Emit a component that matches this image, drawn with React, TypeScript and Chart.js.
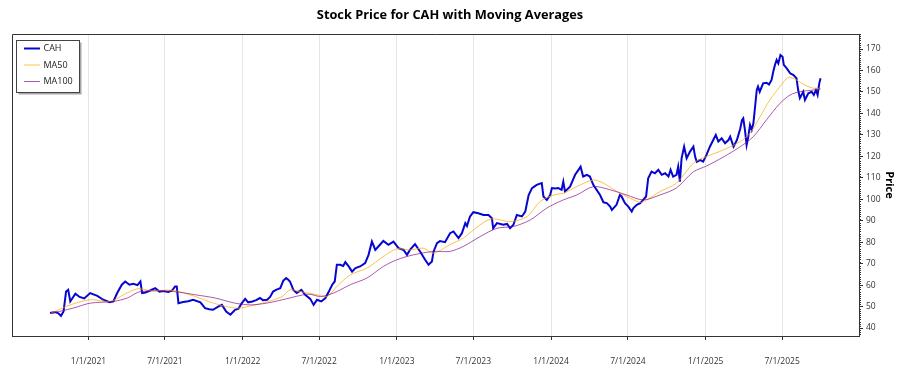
import React, { useEffect, useRef } from "react";
import { Chart, registerables } from "chart.js";

Chart.register(...registerables);

// ---------- data ----------
const cahDates = [
  "2020-10-02","2020-10-14","2020-10-21","2020-10-28","2020-11-03","2020-11-09","2020-11-14","2020-11-19","2020-12-01","2020-12-11",
  "2020-12-22","2021-01-05","2021-01-22","2021-02-05","2021-02-20","2021-03-01","2021-03-10","2021-03-21","2021-03-29","2021-04-08",
  "2021-04-17","2021-04-27","2021-05-04","2021-05-08","2021-05-16","2021-05-27","2021-06-08","2021-06-18","2021-06-27","2021-07-09",
  "2021-07-18","2021-07-25","2021-07-29","2021-08-02","2021-08-13","2021-08-25","2021-09-06","2021-09-23","2021-10-04","2021-10-14",
  "2021-10-23","2021-11-04","2021-11-13","2021-11-23","2021-12-03","2021-12-14","2021-12-22","2021-12-30","2022-01-07","2022-01-14",
  "2022-01-24","2022-02-02","2022-02-11","2022-02-18","2022-02-28","2022-03-07","2022-03-14","2022-03-21","2022-03-31","2022-04-07",
  "2022-04-14","2022-04-19","2022-04-23","2022-05-01","2022-05-09","2022-05-20","2022-05-29","2022-06-10","2022-06-18","2022-06-26",
  "2022-07-06","2022-07-16","2022-07-24","2022-08-01","2022-08-07","2022-08-12","2022-08-20","2022-08-27","2022-09-01","2022-09-09",
  "2022-09-17","2022-09-25","2022-10-06","2022-10-18","2022-10-26","2022-11-03","2022-11-11","2022-11-22","2022-11-30","2022-12-12",
  "2022-12-24","2023-01-05","2023-01-17","2023-01-25","2023-02-01","2023-02-13","2023-02-25","2023-03-09","2023-03-17","2023-03-25",
  "2023-03-29","2023-04-06","2023-04-13","2023-04-25","2023-05-07","2023-05-15","2023-05-27","2023-06-04","2023-06-12","2023-06-16",
  "2023-06-23","2023-07-01","2023-07-13","2023-07-25","2023-08-06","2023-08-14","2023-08-17","2023-08-26","2023-09-10","2023-09-19",
  "2023-09-26","2023-10-04","2023-10-12","2023-10-24","2023-11-01","2023-11-09","2023-11-17","2023-11-28","2023-12-10","2023-12-14",
  "2023-12-22","2023-12-30","2024-01-03","2024-01-11","2024-01-18","2024-01-26","2024-01-30","2024-02-03","2024-02-15","2024-02-27",
  "2024-03-06","2024-03-11","2024-03-17","2024-03-26","2024-04-02","2024-04-10","2024-04-18","2024-04-26","2024-05-04","2024-05-12",
  "2024-05-20","2024-05-24","2024-06-04","2024-06-12","2024-06-16","2024-06-24","2024-07-02","2024-07-10","2024-07-14","2024-07-22",
  "2024-07-30","2024-08-06","2024-08-13","2024-08-18","2024-08-26","2024-09-03","2024-09-11","2024-09-19","2024-09-27","2024-10-05",
  "2024-10-10","2024-10-16","2024-10-24","2024-10-28","2024-11-01","2024-11-05","2024-11-11","2024-11-17","2024-11-25","2024-12-03",
  "2024-12-07","2024-12-11","2024-12-19","2024-12-26","2025-01-03","2025-01-11","2025-01-19","2025-01-25","2025-01-31","2025-02-08",
  "2025-02-16","2025-02-24","2025-02-28","2025-03-08","2025-03-16","2025-03-24","2025-03-28","2025-03-31","2025-04-04","2025-04-08",
  "2025-04-12","2025-04-16","2025-04-20","2025-04-24","2025-04-28","2025-05-02","2025-05-05","2025-05-09","2025-05-17","2025-05-25",
  "2025-05-31","2025-06-06","2025-06-10","2025-06-14","2025-06-18","2025-06-22","2025-06-27","2025-07-02","2025-07-05","2025-07-12",
  "2025-07-20","2025-07-28","2025-08-04","2025-08-08","2025-08-12","2025-08-20","2025-08-24","2025-09-01","2025-09-09","2025-09-14",
  "2025-09-19","2025-09-23","2025-09-27","2025-09-30",
];
const cahPrices = [
  47.0,47.5,47.0,45.7,47.7,57.0,57.8,52.4,56.0,54.5,
  53.8,56.3,55.0,53.2,52.0,52.4,56.3,60.2,61.7,60.2,
  60.6,60.0,61.7,56.3,56.6,57.5,58.6,57.0,57.3,56.8,
  57.5,59.4,59.4,51.6,52.1,52.5,53.2,52.0,49.3,48.8,
  48.5,50.0,50.8,47.7,46.2,48.5,49.0,51.6,53.6,52.0,
  52.4,53.0,54.0,53.0,53.2,54.5,57.0,57.8,58.6,62.0,
  63.3,62.5,61.7,57.8,56.3,57.8,55.5,53.6,50.8,53.2,
  52.4,54.0,57.0,60.2,61.7,69.5,69.5,68.9,70.7,68.7,
  66.3,67.9,68.7,70.3,74.1,80.3,76.4,78.8,80.6,78.8,
  80.3,77.2,76.4,74.1,76.4,79.1,75.7,71.8,69.5,71.0,
  75.7,79.6,80.5,80.0,84.2,85.0,81.9,84.2,88.9,87.5,
  91.9,94.0,93.5,92.7,92.7,91.2,86.5,88.9,88.1,88.5,
  86.5,88.1,92.7,92.0,94.3,102.0,105.2,106.7,107.5,101.3,
  99.7,102.0,105.2,105.0,105.2,104.4,108.2,103.6,105.9,111.4,
  113.7,115.2,110.6,111.4,110.6,106.7,104.4,102.0,98.6,98.2,
  96.6,95.0,97.4,102.0,101.3,98.2,96.6,94.3,95.9,97.4,
  98.2,99.7,101.3,109.8,112.9,112.1,113.7,111.4,112.1,110.6,
  113.7,110.6,111.4,115.2,108.2,119.1,124.5,119.1,122.2,124.5,
  119.9,117.5,118.3,117.5,120.7,124.5,127.6,130.0,126.9,128.4,
  126.1,127.6,129.2,124.5,127.6,133.0,136.9,137.7,132.3,125.3,
  129.2,134.6,132.3,135.4,143.1,150.9,152.5,150.1,154.0,154.3,
  153.5,155.6,159.4,162.6,164.9,163.3,167.2,166.4,162.6,161.0,
  158.7,157.9,156.4,150.9,147.1,150.1,146.3,149.4,150.1,148.6,
  150.9,148.6,154.0,156.4,
];

const ma50Dates = [
  "2020-10-02","2020-11-19","2021-01-05","2021-02-22","2021-03-25","2021-04-27","2021-05-27","2021-07-21","2021-09-11","2021-10-12",
  "2021-11-21","2021-12-22","2022-01-24","2022-03-03","2022-04-05","2022-04-23","2022-05-17","2022-06-26","2022-07-20","2022-08-12",
  "2022-09-13","2022-10-22","2022-11-30","2023-01-01","2023-02-01","2023-03-05","2023-03-29","2023-05-06","2023-06-07","2023-07-17",
  "2023-08-14","2023-09-26","2023-11-05","2023-12-06","2024-01-07","2024-01-30","2024-03-02","2024-04-10","2024-05-04","2024-06-05",
  "2024-06-28","2024-07-30","2024-08-15","2024-09-15","2024-10-24","2024-12-03","2025-01-03","2025-02-12","2025-03-24","2025-04-16",
  "2025-05-10","2025-06-02","2025-06-26","2025-07-16","2025-08-04","2025-08-24","2025-09-13","2025-09-30",
];
const ma50Values = [
  46.7,50.8,53.2,52.4,55.5,58.3,57.5,57.5,54.7,52.4,
  50.1,49.3,50.5,52.4,54.7,57.8,57.0,55.5,54.7,59.4,
  64.8,67.9,73.3,76.9,76.4,77.2,74.9,78.8,81.9,88.1,
  90.9,89.6,91.9,98.9,102.0,102.8,105.9,109.0,107.5,103.6,
  101.3,98.6,99.7,103.6,107.5,116.8,119.9,123.0,126.9,130.8,
  138.5,146.3,152.5,156.8,155.6,153.2,151.7,151.4,
];

const ma100Dates = [
  "2020-10-02","2020-11-26","2021-01-05","2021-03-01","2021-04-03","2021-05-04","2021-07-21","2021-09-11","2021-10-28","2021-12-14",
  "2022-01-24","2022-03-12","2022-04-12","2022-06-05","2022-07-04","2022-08-04","2022-09-13","2022-10-22","2022-11-30","2023-01-01",
  "2023-02-09","2023-03-29","2023-05-06","2023-06-07","2023-07-17","2023-08-26","2023-10-04","2023-11-13","2023-12-22","2024-01-30",
  "2024-03-02","2024-04-10","2024-05-20","2024-06-28","2024-08-06","2024-09-15","2024-10-24","2024-12-03","2025-01-03","2025-02-12",
  "2025-03-24","2025-04-24","2025-05-25","2025-06-26","2025-07-20","2025-08-12","2025-09-13","2025-09-30",
];
const ma100Values = [
  46.7,49.3,51.6,52.4,54.0,57.0,57.0,55.5,54.0,51.6,
  50.8,52.1,53.5,55.8,54.7,56.3,60.2,63.3,68.7,71.8,
  74.1,75.7,75.7,78.0,82.6,86.5,87.3,90.4,95.9,99.7,
  102.0,105.9,104.4,102.0,99.7,102.0,105.3,112.8,115.5,119.7,
  124.5,129.2,137.0,144.7,148.6,150.1,150.9,151.4,
];

const xTickDates = [
  "2021-01-01","2021-07-01","2022-01-01","2022-07-01","2023-01-01",
  "2023-07-01","2024-01-01","2024-07-01","2025-01-01","2025-07-01",
];
const yTickValues = [40, 50, 60, 70, 80, 90, 100, 110, 120, 130, 140, 150, 160, 170];

const TITLE = "Stock Price for CAH with Moving Averages";
const X_MIN = "2020-07-04";
const X_MAX = "2025-12-30";
const Y_MIN = 36.3;
const Y_MAX = 177;

// ---------- helpers ----------
const FONT = "'Open Sans', 'Noto Sans', 'DejaVu Sans', sans-serif";
const ts = (s: string) => {
  const [y, m, d] = s.split("-").map(Number);
  return Date.UTC(y, m - 1, d);
};
const fmt = (v: number) => {
  const dt = new Date(v);
  return `${dt.getUTCMonth() + 1}/${dt.getUTCDate()}/${dt.getUTCFullYear()}`;
};
const pts = (dates: string[], vals: number[]) => dates.map((d, i) => ({ x: ts(d), y: vals[i] }));

const COLORS = {
  cah: "#0606d0",
  ma50: "rgba(255,165,0,0.7)",
  ma100: "rgba(128,0,128,0.65)",
  axis: "#333333",
  grid: "#e6e6e6",
};

const framePlugin = {
  id: "frameAndLegend",
  afterDraw(chart: any) {
    const { ctx, chartArea: a, scales, width } = chart;
    ctx.save();
    // title, centred on the canvas
    ctx.fillStyle = "#000";
    ctx.font = `bold 12.8px ${FONT}`;
    ctx.textAlign = "center";
    ctx.textBaseline = "middle";
    ctx.fillText(TITLE, width / 2, 15);
    ctx.textAlign = "left";
    // left & top frame
    ctx.strokeStyle = COLORS.axis;
    ctx.lineWidth = 1;
    ctx.beginPath();
    ctx.moveTo(a.left + 0.5, a.bottom);
    ctx.lineTo(a.left + 0.5, a.top + 0.5);
    ctx.lineTo(a.right, a.top + 0.5);
    ctx.stroke();
    // minor ticks on right axis
    const ys = scales.y;
    ctx.beginPath();
    for (let v = Math.ceil(ys.min); v <= ys.max; v++) {
      if (v % 10 === 0) continue;
      const py = Math.round(ys.getPixelForValue(v)) + 0.5;
      ctx.moveTo(a.right, py);
      ctx.lineTo(a.right + 2, py);
    }
    ctx.stroke();
    // legend box
    const bx = a.left + 4.5, by = a.top + 6.5, bw = 63, bh = 52;
    ctx.fillStyle = "rgba(0,0,0,0.35)";
    ctx.fillRect(bx + 2, by + 2, bw, bh);
    ctx.fillStyle = "#ffffff";
    ctx.fillRect(bx, by, bw, bh);
    ctx.strokeStyle = "#444";
    ctx.strokeRect(bx, by, bw, bh);
    const ds = chart.data.datasets;
    ctx.font = `9px ${FONT}`;
    ctx.textBaseline = "middle";
    ds.forEach((d: any, i: number) => {
      const y = by + 8 + i * 16.5;
      ctx.strokeStyle = d.borderColor;
      ctx.lineWidth = d.borderWidth;
      ctx.beginPath();
      ctx.moveTo(bx + 7.5, y);
      ctx.lineTo(bx + 23.5, y);
      ctx.stroke();
      ctx.fillStyle = "#222";
      ctx.fillText(d.label, bx + 27, y);
    });
    ctx.restore();
  },
};

export default function App() {
  const ref = useRef<HTMLCanvasElement | null>(null);
  useEffect(() => {
    if (!ref.current) return;
    const chart = new Chart(ref.current, {
      type: "line",
      data: {
        datasets: [
          { label: "CAH", data: pts(cahDates, cahPrices), borderColor: COLORS.cah, borderWidth: 2, pointRadius: 0, tension: 0, order: 3 },
          { label: "MA50", data: pts(ma50Dates, ma50Values), borderColor: COLORS.ma50, borderWidth: 1, pointRadius: 0, tension: 0.3, order: 2 },
          { label: "MA100", data: pts(ma100Dates, ma100Values), borderColor: COLORS.ma100, borderWidth: 1, pointRadius: 0, tension: 0.3, order: 1 },
        ],
      },
      options: {
        animation: false,
        responsive: false,
        maintainAspectRatio: false,
        layout: { padding: { left: 12, right: 0, top: 34, bottom: 0 } },
        plugins: {
          legend: { display: false },
          tooltip: { enabled: false },
          title: { display: false },
        },
        scales: {
          x: {
            type: "linear",
            min: ts(X_MIN),
            max: ts(X_MAX),
            afterBuildTicks: (s: any) => {
              s.ticks = xTickDates.map((d) => ({ value: ts(d) }));
            },
            afterFit: (s: any) => {
              s.height = 39;
            },
            ticks: {
              autoSkip: false,
              maxRotation: 0,
              padding: 16,
              color: "#333",
              font: { family: FONT, size: 8.5 },
              callback: (v: any) => fmt(Number(v)),
            },
            grid: { color: COLORS.grid, tickColor: COLORS.axis, tickLength: 4, drawOnChartArea: true },
            border: { color: COLORS.axis, width: 1 },
          },
          y: {
            position: "right",
            min: Y_MIN,
            max: Y_MAX,
            afterBuildTicks: (s: any) => {
              s.ticks = yTickValues.map((v) => ({ value: v }));
            },
            afterFit: (s: any) => {
              s.width = 41;
            },
            ticks: { padding: 3, color: "#333", font: { family: FONT, size: 8.5 } },
            grid: { drawOnChartArea: false, tickColor: COLORS.axis, tickLength: 4 },
            border: { color: COLORS.axis, width: 1 },
            title: {
              display: true,
              text: "Price",
              color: "#000",
              font: { family: FONT, size: 11, weight: "bold" },
              padding: { top: 4, bottom: 4 },
            },
          },
        },
      },
      plugins: [framePlugin],
    } as any);
    return () => chart.destroy();
  }, []);
  return (
    <div style={{ position: "fixed", left: 0, top: 0, width: 900, height: 375, background: "#fff" }}>
      <canvas ref={ref} width={900} height={375} style={{ display: "block", width: 900, height: 375 }} />
    </div>
  );
}
